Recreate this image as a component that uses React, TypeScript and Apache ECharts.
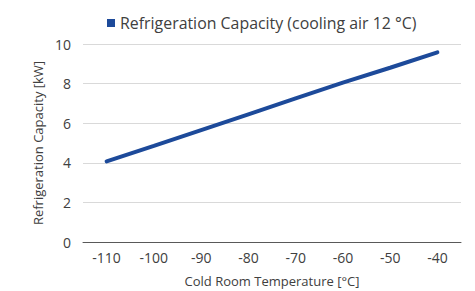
import React, { useEffect, useRef } from "react";
import * as echarts from "echarts";

const categories = ["-110", "-100", "-90", "-80", "-70", "-60", "-50", "-40"];
const capacity = [4.07, 4.85, 5.65, 6.45, 7.25, 8.05, 8.8, 9.58];
const seriesName = "Refrigeration Capacity (cooling air 12 °C)";

export default function App() {
  const ref = useRef<HTMLDivElement>(null);
  useEffect(() => {
    document.body.style.margin = "0";
    const chart = echarts.init(ref.current!, null, { renderer: "svg" });
    const font = "Open Sans";
    chart.setOption({
      animation: false,
      backgroundColor: "#ffffff",
      textStyle: { fontFamily: font },
      legend: {
        top: 15,
        left: 107,
        padding: 0,
        itemWidth: 8,
        itemHeight: 8,
        itemGap: 7,
        icon: "rect",
        textStyle: { fontSize: 15.9, color: "#404040", fontFamily: font },
        data: [seriesName],
      },
      grid: { left: 83, right: 14, top: 44, bottom: 49, outerBoundsMode: "none", containLabel: false },
      xAxis: {
        type: "category",
        data: categories,
        boundaryGap: true,
        name: "Cold Room Temperature [°C]",
        nameLocation: "middle",
        nameGap: 32,
        nameTextStyle: { fontSize: 13, color: "#404040", fontFamily: font },
        axisLine: { lineStyle: { color: "#595959", width: 1 } },
        axisTick: { show: false },
        axisLabel: { fontSize: 14, color: "#404040", margin: 8, fontFamily: font },
      },
      yAxis: {
        type: "value",
        min: 0,
        max: 10,
        interval: 2,
        name: "Refrigeration Capacity [kW]",
        nameLocation: "middle",
        nameGap: 39,
        nameTextStyle: { fontSize: 13, color: "#404040", fontFamily: font },
        axisLine: { show: false },
        axisTick: { show: false },
        axisLabel: { fontSize: 14, color: "#404040", margin: 12, fontFamily: font },
        splitLine: { lineStyle: { color: "#d9d9d9", width: 1 } },
      },
      series: [
        {
          name: seriesName,
          type: "line",
          data: capacity,
          showSymbol: false,
          symbol: "none",
          itemStyle: { color: "#1d4a9a" },
          lineStyle: { color: "#1d4a9a", width: 4, cap: "round" },
        },
      ],
    });
    return () => chart.dispose();
  }, []);
  return <div ref={ref} style={{ width: 475, height: 291 }} />;
}
